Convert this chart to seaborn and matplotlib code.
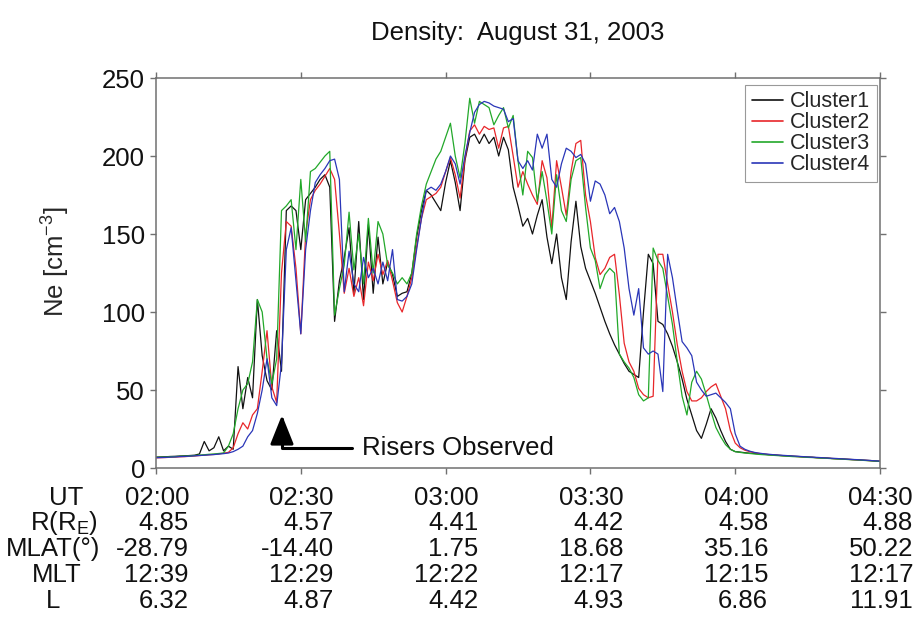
import matplotlib
matplotlib.use("Agg")
import matplotlib.pyplot as plt
import matplotlib.transforms as mtransforms
import seaborn as sns
import pandas as pd

# ---------------- data ----------------
minutes = list(range(0, 151))  # minutes after 02:00 UT

cluster1 = [7.0, 7.1, 7.2, 7.4, 7.5, 7.7, 7.8, 8.0, 8.2, 9.0,
            17, 11, 13, 20, 11, 14, 12, 65, 38, 58,
            45, 108, 72, 56, 50, 88, 62, 165, 168, 165,
            140, 172, 176, 180, 185, 188, 180, 94, 120, 135,
            154, 112, 158, 108, 156, 112, 148, 118, 132, 124,
            110, 112, 113, 125, 148, 165, 178, 175, 170, 165,
            183, 197, 183, 165, 197, 212, 214, 208, 214, 208,
            212, 200, 212, 204, 180, 168, 155, 160, 150, 162,
            172, 148, 131, 150, 122, 108, 145, 171, 142, 128,
            120, 112, 103, 94, 86, 79, 73, 67, 62, 60,
            58, 100, 137, 131, 94, 92, 86, 78, 68, 57,
            44, 34, 24, 19, 28, 38, 32, 24, 17, 12,
            10.5, 10.2, 9.8, 9.5, 9.3, 9.0, 8.8, 8.5, 8.4, 8.1,
            7.9, 7.8, 7.5, 7.4, 7.2, 7.0, 6.9, 6.6, 6.5, 6.4,
            6.1, 6.0, 5.8, 5.6, 5.5, 5.3, 5.1, 4.9, 4.8, 4.5,
            4.3]

cluster2 = [6.5, 6.6, 6.7, 6.9, 7.0, 7.2, 7.3, 7.5, 7.7, 8.0,
            8.2, 8.5, 8.7, 9.0, 9.5, 10, 13, 22, 29, 25,
            34, 38, 62, 88, 52, 42, 125, 158, 155, 128,
            86, 150, 172, 178, 182, 187, 192, 185, 150, 112,
            128, 110, 122, 104, 132, 120, 137, 124, 133, 120,
            106, 100, 110, 122, 142, 160, 172, 174, 176, 180,
            190, 199, 188, 173, 198, 216, 220, 214, 219, 217,
            218, 205, 218, 219, 200, 180, 190, 182, 175, 169,
            197, 186, 154, 197, 180, 162, 190, 208, 210, 175,
            158, 135, 124, 128, 135, 137, 111, 80, 68, 62,
            51, 47, 45, 46, 137, 137, 118, 100, 79, 62,
            49, 43, 43, 45, 49, 52, 54, 46, 38, 24,
            16, 13, 11.4, 10.5, 9.8, 9.3, 8.9, 8.6, 8.4, 8.1,
            7.9, 7.7, 7.5, 7.3, 7.1, 6.9, 6.8, 6.6, 6.4, 6.3,
            6.1, 5.9, 5.8, 5.6, 5.4, 5.2, 5.0, 4.9, 4.7, 4.5,
            4.3]

cluster3 = [6.8, 6.9, 7.0, 7.2, 7.3, 7.5, 7.6, 7.8, 8.0, 8.3,
            8.5, 8.8, 9.0, 9.3, 9.6, 14, 22, 38, 50, 54,
            68, 108, 100, 70, 54, 70, 165, 168, 172, 140,
            185, 145, 190, 192, 196, 200, 203, 98, 115, 130,
            164, 127, 150, 118, 160, 125, 158, 150, 130, 125,
            118, 122, 118, 125, 150, 168, 182, 190, 198, 203,
            212, 221, 200, 186, 208, 237, 221, 235, 233, 231,
            220, 226, 231, 218, 226, 197, 175, 203, 199, 171,
            190, 171, 150, 188, 165, 158, 185, 197, 199, 167,
            141, 133, 115, 124, 128, 125, 73, 68, 64, 58,
            47, 43, 45, 141, 133, 128, 110, 92, 68, 46,
            34, 55, 62, 57, 47, 36, 26, 20, 15, 12,
            10.5, 10.0, 9.6, 9.3, 9.0, 8.7, 8.5, 8.3, 8.1, 7.9,
            7.7, 7.5, 7.3, 7.2, 7.0, 6.8, 6.7, 6.5, 6.3, 6.2,
            6.0, 5.8, 5.7, 5.5, 5.3, 5.2, 5.0, 4.8, 4.6, 4.4,
            4.2]

cluster4 = [6.6, 6.7, 6.8, 7.0, 7.1, 7.3, 7.4, 7.6, 7.8, 8.0,
            8.2, 8.4, 8.6, 8.9, 9.2, 9.6, 10.5, 12, 14, 20,
            24, 35, 50, 70, 45, 40, 67, 140, 154, 120,
            86, 140, 165, 183, 188, 192, 197, 198, 185, 113,
            139, 118, 113, 135, 122, 128, 118, 132, 120, 140,
            108, 107, 110, 118, 140, 160, 178, 180, 178, 182,
            190, 200, 195, 182, 200, 215, 228, 233, 235, 234,
            232, 231, 230, 222, 224, 197, 192, 197, 191, 214,
            205, 214, 185, 180, 195, 205, 203, 199, 201, 195,
            171, 184, 182, 175, 163, 167, 158, 141, 115, 98,
            115, 77, 73, 75, 73, 49, 137, 122, 101, 81,
            77, 72, 55, 50, 46, 47, 48, 45, 42, 38,
            22, 14, 12, 10.8, 10.0, 9.5, 9.1, 8.8, 8.5, 8.3,
            8.1, 7.9, 7.7, 7.5, 7.3, 7.1, 6.9, 6.8, 6.6, 6.4,
            6.2, 6.1, 5.9, 5.7, 5.5, 5.4, 5.2, 5.0, 4.8, 4.6,
            4.4]

series_names = ["Cluster1", "Cluster2", "Cluster3", "Cluster4"]
series_colors = ["#111111", "#e8262a", "#22a82a", "#2a36b8"]

tick_minutes = [0, 30, 60, 90, 120, 150]
row_labels = ["UT", "R(R$_\\mathrm{E}$)", "MLAT(°)", "MLT", "L"]
ut_vals = ["02:00", "02:30", "03:00", "03:30", "04:00", "04:30"]
r_vals = ["4.85", "4.57", "4.41", "4.42", "4.58", "4.88"]
mlat_vals = ["-28.79", "-14.40", "1.75", "18.68", "35.16", "50.22"]
mlt_vals = ["12:39", "12:29", "12:22", "12:17", "12:15", "12:17"]
l_vals = ["6.32", "4.87", "4.42", "4.93", "6.86", "11.91"]

# ---------------- style ----------------
sns.set_style("white")
plt.rcParams["font.family"] = ["Liberation Sans", "DejaVu Sans"]
plt.rcParams["mathtext.fontset"] = "custom"
plt.rcParams["mathtext.rm"] = "Liberation Sans"
plt.rcParams["mathtext.it"] = "Liberation Sans:italic"
plt.rcParams["mathtext.bf"] = "Liberation Sans:bold"

FS = 18.5
W, H = 917, 618
fig = plt.figure(figsize=(W / 100, H / 100), dpi=100)
ax = fig.add_axes([156 / W, 1 - 468 / H, 724 / W, 390 / H])

for name, vals, col in zip(series_names, [cluster1, cluster2, cluster3, cluster4], series_colors):
    df = pd.DataFrame({"minute": minutes, "Ne": vals})
    sns.lineplot(data=df, x="minute", y="Ne", color=col, linewidth=0.9,
                 label=name, ax=ax, estimator=None, sort=False)

ax.set_xlim(0, 150)
ax.set_ylim(0, 250)
ax.set_xticks(tick_minutes)
ax.set_xticklabels([])
ax.set_yticks([0, 50, 100, 150, 200, 250])
ax.set_xlabel("")
ax.set_ylabel("Ne [cm$^{-3}$]", fontsize=FS)
ax.yaxis.set_label_coords((72 - 156) / 724, (468 - 262) / 390)

frame_col = "#707070"
for sp in ax.spines.values():
    sp.set_visible(True)
    sp.set_color(frame_col)
    sp.set_linewidth(1.1)
ax.tick_params(axis="both", which="major", direction="out", length=4.5, width=1.0,
               color=frame_col, top=True, right=True, bottom=True, left=True,
               labelsize=FS, pad=3.5, labelcolor="#111111")

leg = ax.legend(loc="upper right", bbox_to_anchor=((877 - 156) / 724, (468 - 85) / 390),
                borderaxespad=0, fontsize=15.5, frameon=True, fancybox=False,
                edgecolor="#999999", framealpha=1, handlelength=1.45,
                handletextpad=0.35, labelspacing=0.0, borderpad=0.3)
leg.get_frame().set_linewidth(0.8)
for line in leg.get_lines():
    line.set_linewidth(1.2)

# annotation: risers observed
ax.annotate("", xy=(26.1, 34), xytext=(40.6, 12.8),
            arrowprops=dict(arrowstyle="-|>,head_length=0.9,head_width=0.36",
                            connectionstyle="angle,angleA=0,angleB=90,rad=0",
                            color="black", lw=2.2, shrinkA=0, shrinkB=0,
                            mutation_scale=20))
ax.text(42.7, 12.8, "Risers Observed", fontsize=FS, ha="left", va="center",
        color="#111111")

# title
fig.text(518 / W, 1 - 33 / H, "Density:  August 31, 2003", fontsize=FS,
         ha="center", va="center", color="#111111")

# ephemeris table below the axis
col_trans = mtransforms.blended_transform_factory(ax.transData, fig.transFigure) + \
    mtransforms.ScaledTranslation(33 / 100, 0, fig.dpi_scale_trans)
rows = [ut_vals, r_vals, mlat_vals, mlt_vals, l_vals]
baselines = [504.7, 530.4, 556.1, 581.8, 607.5]
label_centers = [66, 64, 53, 57, 53]
for lab, vals, yb, xc in zip(row_labels, rows, baselines, label_centers):
    fig.text(xc / W, 1 - yb / H, lab, fontsize=FS, ha="center", va="baseline",
             color="#111111")
    for tm, v in zip(tick_minutes, vals):
        fig.text(tm, 1 - yb / H, v, fontsize=FS, ha="right", va="baseline",
                 transform=col_trans, color="#111111")

fig.savefig("out.png", dpi=100)
